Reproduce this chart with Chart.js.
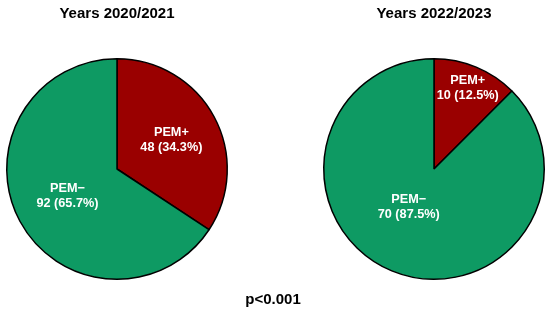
<!DOCTYPE html>
<html>
<head>
<meta charset="utf-8">
<script src="https://cdn.jsdelivr.net/npm/chart.js@4"></script>
<style>
  body { margin:0; background:#fff; width:550px; height:324px; position:relative; overflow:hidden; }
  .pie { position:absolute; top:0; }
  #pval { position:absolute; left:0; width:546px; top:290px; text-align:center;
          font:bold 15px "Liberation Sans", Arial, sans-serif; color:#000; }
</style>
</head>
<body>
<canvas id="pieLeft" class="pie" width="275" height="324" style="left:0"></canvas>
<canvas id="pieRight" class="pie" width="275" height="324" style="left:275px"></canvas>
<div id="pval">p&lt;0.001</div>
<script>
const categories = ['PEM+', 'PEM\u2212'];
const counts2021 = [48, 92];
const counts2023 = [10, 70];
const pct2021 = ['34.3%', '65.7%'];
const pct2023 = ['12.5%', '87.5%'];
const sliceColors = ['#9a0000', '#0e9a63'];

// white two-line labels inside the slices
const sliceLabels = {
  id: 'sliceLabels',
  afterDatasetsDraw(c, args, opts){
    const {ctx} = c;
    const meta = c.getDatasetMeta(0);
    meta.data.forEach((arc, i)=>{
      const a = (arc.startAngle + arc.endAngle) / 2 + (opts.shift[i] || 0);
      const r = arc.outerRadius * opts.radius[i];
      const x = arc.x + Math.cos(a) * r;
      const y = arc.y + Math.sin(a) * r;
      ctx.save();
      ctx.fillStyle = '#fff';
      ctx.font = 'bold 12.7px "Liberation Sans", Arial, sans-serif';
      ctx.textAlign = 'center';
      ctx.textBaseline = 'middle';
      ctx.fillText(c.data.labels[i], x, y - 7);
      ctx.fillText(c.data.datasets[0].data[i] + ' (' + opts.pct[i] + ')', x, y + 8);
      ctx.restore();
    });
  }
};

function makePie(id, title, values, pct, pad, labelPos){
  return new Chart(document.getElementById(id), {
    type: 'pie',
    data: {
      labels: categories,
      datasets: [{ data: values, backgroundColor: sliceColors, borderColor: '#000', borderWidth: 1.5 }]
    },
    options: {
      responsive: false,
      animation: false,
      layout: { padding: pad },
      plugins: {
        legend: { display: false },
        tooltip: { enabled: false },
        title: {
          display: true, text: title, color: '#000',
          font: { family: '"Liberation Sans", Arial, sans-serif', size: 15, weight: 'bold' },
          padding: { top: 5, bottom: 35 }
        },
        sliceLabels: { pct, radius: labelPos.radius, shift: labelPos.shift }
      }
    },
    plugins: [sliceLabels]
  });
}

makePie('pieLeft', 'Years 2020/2021', counts2021, pct2021,
  { left: 6, right: 47, bottom: 44 },
  { radius: [0.56, 0.51], shift: [0, 0] });

makePie('pieRight', 'Years 2022/2023', counts2023, pct2023,
  { left: 48, right: 5, bottom: 44 },
  { radius: [0.8, 0.41], shift: [0, 0.2] });
</script>
</body>
</html>
